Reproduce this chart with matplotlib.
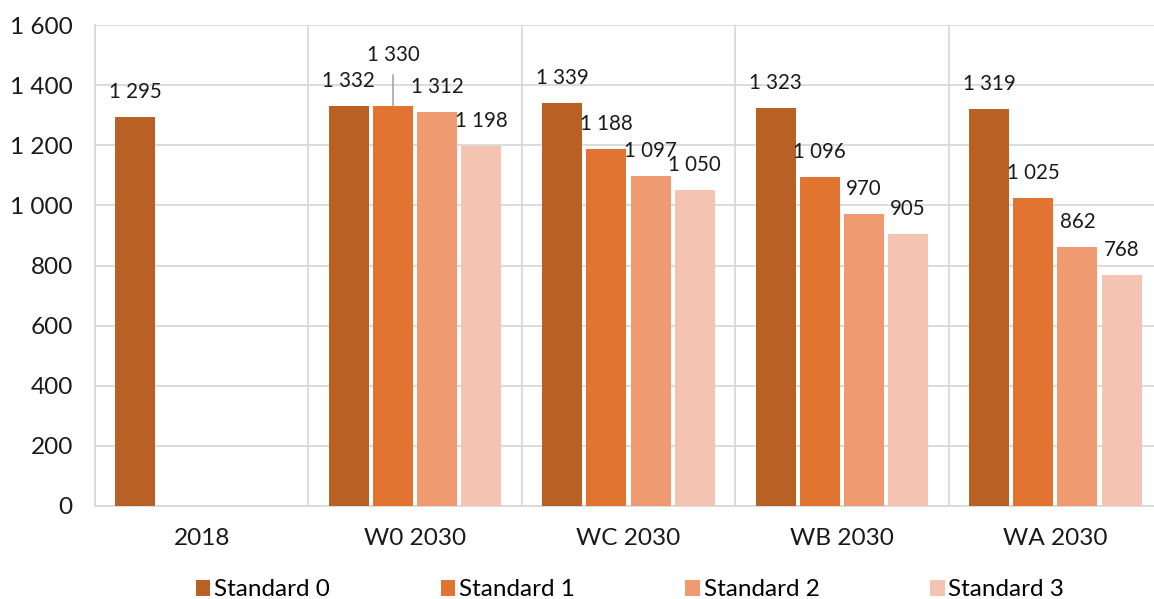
import numpy as np
import matplotlib.pyplot as plt
from matplotlib.ticker import FuncFormatter, MultipleLocator

plt.rcParams['font.family'] = ['Lato', 'DejaVu Sans']

categories = ['2018', 'W0 2030', 'WC 2030', 'WB 2030', 'WA 2030']
series_names = ['Standard 0', 'Standard 1', 'Standard 2', 'Standard 3']
standard_0 = [1295, 1332, 1339, 1323, 1319]
standard_1 = [np.nan, 1330, 1188, 1096, 1025]
standard_2 = [np.nan, 1312, 1097, 970, 862]
standard_3 = [np.nan, 1198, 1050, 905, 768]
colors = ['#B96024', '#E07430', '#F09A72', '#F5C3B2']

def fmt(v):
    # spacja jako separator tysiecy
    return f'{int(round(v)):,}'.replace(',', ' ')

fig = plt.figure(figsize=(11.54, 5.99), dpi=100)
ax = fig.add_axes([95 / 1154, 93 / 599, 1067 / 1154, 481 / 599])

x = np.arange(len(categories))
step = 0.207
width = 0.187
all_series = [standard_0, standard_1, standard_2, standard_3]

for i, (name, vals, c) in enumerate(zip(series_names, all_series, colors)):
    vals = np.array(vals, dtype=float)
    ok = ~np.isnan(vals)
    xs = x[ok] + (i - 1.5) * step
    ax.bar(xs, vals[ok], width=width, color=c, label=name, zorder=3)
    for xi, v, cat in zip(xs, vals[ok], np.array(categories)[ok]):
        if cat == 'W0 2030' and name == 'Standard 1':
            # etykieta podniesiona z linia odniesienia
            ax.annotate(fmt(v), xy=(xi, v), xytext=(0, 51), textcoords='offset pixels',
                        ha='center', va='center', fontsize=14.8, color='#1a1a1a',
                        arrowprops=dict(arrowstyle='-', color='#A6A6A6', lw=1.2,
                                        shrinkA=5, shrinkB=0), zorder=4)
        else:
            ax.annotate(fmt(v), xy=(xi, v), xytext=(0, 25), textcoords='offset pixels',
                        ha='center', va='center', fontsize=14.8, color='#1a1a1a', zorder=4)

ax.set_xlim(-0.5, len(categories) - 0.5)
ax.set_ylim(0, 1600)
ax.yaxis.set_major_locator(MultipleLocator(200))
ax.yaxis.set_major_formatter(FuncFormatter(lambda v, p: fmt(v)))
ax.set_xticks(x)
ax.set_xticklabels(categories)
ax.set_xticks(x[:-1] + 0.5, minor=True)

ax.grid(axis='y', color='#D9D9D9', lw=1.3, zorder=0)
ax.grid(axis='x', which='minor', color='#D9D9D9', lw=1.3, zorder=0)
ax.set_axisbelow(True)
for s in ['top', 'right']:
    ax.spines[s].set_visible(False)
for s in ['left', 'bottom']:
    ax.spines[s].set_color('#D9D9D9')
    ax.spines[s].set_linewidth(1.3)

ax.tick_params(axis='both', which='both', length=0, labelsize=17.6, colors='#1a1a1a')
ax.tick_params(axis='y', pad=16)
ax.tick_params(axis='x', pad=16)

fig.legend(loc='center', bbox_to_anchor=(630 / 1154, 1 - 590 / 599), ncol=4,
           frameon=False, fontsize=17.5, handlelength=0.6, handleheight=0.6,
           handletextpad=0.15, columnspacing=4.55)

fig.savefig('out.png', dpi=100)
